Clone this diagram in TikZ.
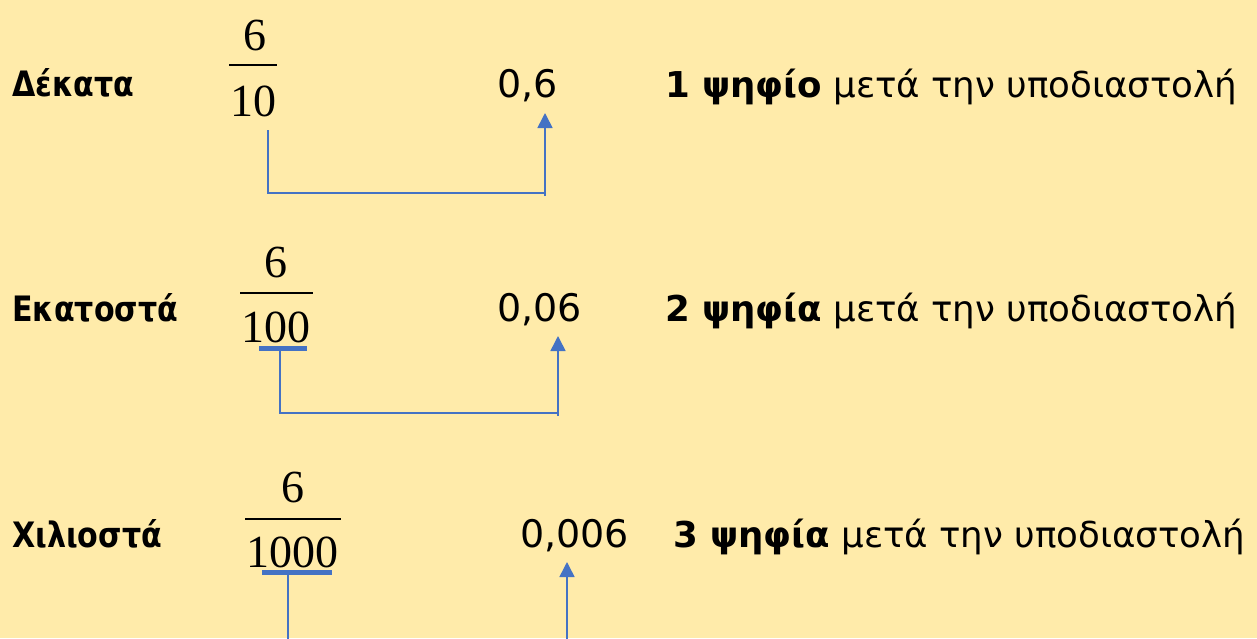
\documentclass[tikz,border=0pt]{standalone}
\usepackage{fontspec}
\setmainfont{DejaVu Sans}
\newfontfamily\numfont{Liberation Serif}
\newfontfamily\labelfont[FakeStretch=0.86]{DejaVu Sans}
\usetikzlibrary{arrows.meta,calc}
\definecolor{paper}{RGB}{255,235,170}
\definecolor{link}{RGB}{68,114,196}
\tikzset{
  rowlabel/.style={anchor=base west, inner sep=0pt, font=\labelfont\fontsize{35}{40}\selectfont\bfseries},
  fracnum/.style={anchor=base, inner sep=0pt, font=\numfont\fontsize{46}{50}\selectfont},
  decimal/.style={anchor=base west, inner sep=0pt, font=\fontsize{38}{42}\selectfont},
  rulenote/.style={anchor=base west, inner sep=0pt, font=\fontsize{35.6}{40}\selectfont},
  fracbar/.style={line width=1.3pt, black},
  underbar/.style={line width=5pt, link},
  conn/.style={line width=1.6pt, link},
  tip/.style={line width=1.6pt, link, -{Triangle[width=15pt,length=15pt]}}
}
\begin{document}
\begin{tikzpicture}[x=1pt,y=-1pt]
\fill[paper] (0,0) rectangle (1257,638);
\useasboundingbox (0,0) rectangle (1257,638);

% --- tenths ---
\node[rowlabel] (l1) at (12,96) {Δέκατα};
\node[fracnum] (n1) at (255,50) {6};
\draw[fracbar] (229,65) -- (277,65);
\node[fracnum] (d1) at (253,116) {10};
\node[decimal] (v1) at (497,97) {0,6};
\node[rulenote] (r1) at (665,97) {\textbf{1\ ψηφίο} μετά την υποδιαστολή};
\coordinate (s1) at (268,130);
\coordinate (k1) at (268,193);
\coordinate (t1) at (545,113);
\draw[conn] (s1) -- (k1) -- (k1 -| t1);
\draw[tip] ($(k1 -| t1)+(0,3)$) -- (t1);

% --- hundredths ---
\node[rowlabel] (l2) at (12,321) {Εκατοστά};
\node[fracnum] (n2) at (276,277) {6};
\draw[fracbar] (240,293) -- (313,293);
\node[fracnum] (d2) at (276,342) {100};
\draw[underbar] (259,348.5) -- (307,348.5);
\node[decimal] (v2) at (497,321) {0,06};
\node[rulenote] (r2) at (665,321) {\textbf{2\ ψηφία} μετά την υποδιαστολή};
\coordinate (s2) at (280,351);
\coordinate (k2) at (280,413);
\coordinate (t2) at (558,336);
\draw[conn] (s2) -- (k2) -- (k2 -| t2);
\draw[tip] ($(k2 -| t2)+(0,3)$) -- (t2);

% --- thousandths ---
\node[rowlabel] (l3) at (12,547) {Χιλιοστά};
\node[fracnum] (n3) at (293,502) {6};
\draw[fracbar] (245,519) -- (341,519);
\node[fracnum] (d3) at (292,567) {1000};
\draw[underbar] (262,572.5) -- (332,572.5);
\node[decimal] (v3) at (520,547) {0,006};
\node[rulenote] (r3) at (673,547) {\textbf{3\ ψηφία} μετά την υποδιαστολή};
\coordinate (s3) at (288,575);
\coordinate (k3) at (288,640);
\coordinate (t3) at (567,562);
\draw[conn] (s3) -- (k3);
\draw[tip] (k3 -| t3) -- (t3);
\end{tikzpicture}
\end{document}
